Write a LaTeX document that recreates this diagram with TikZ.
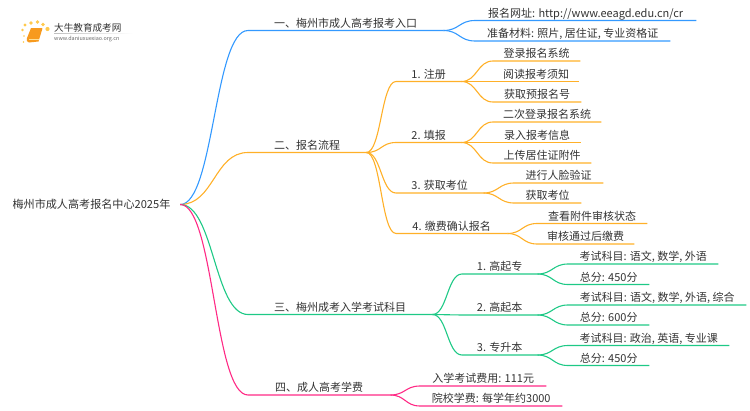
\documentclass[tikz,border=0pt]{standalone}
\usepackage{fontspec}
\setmainfont{Noto Sans CJK SC}
\usetikzlibrary{calc}
\definecolor{lineblue}{HTML}{3399FF}
\definecolor{lineorange}{HTML}{FFB028}
\definecolor{linegreen}{HTML}{1EC986}
\definecolor{linepink}{HTML}{FF2A85}
\definecolor{textdark}{HTML}{333333}
\definecolor{logodot}{HTML}{FFC94D}
\definecolor{logobook}{HTML}{F79A1E}
\newcommand{\figurescale}{1pt}
\tikzset{
	item/.style={anchor=south west,inner xsep=0pt,inner ysep=0.5pt,text height=9pt,text depth=2.5pt,text=textdark,font=\fontsize{11}{13}\selectfont},
	link/.style={line width=1.1pt},
}
\newcommand{\makeitem}[7]{
	\node[item,minimum width={(#4-#3)*\figurescale}] (#1) at (#3,#5) {#7};
	\draw[link,#6] (#2) .. controls ($(#2)!0.5!(#1.south west|-#2)$) and ($(#2|-#1.south west)!0.5!(#1.south west)$) .. (#1.south west) -- (#1.south east);
}

\begin{document}
\begin{tikzpicture}[x=\figurescale,y=-\figurescale]
	\useasboundingbox (0,0) rectangle (750,410);

	\fill[logodot] (24,36) circle (0.8) (22.5,30) circle (1.3) (25,25) circle (1.6) (31,23) circle (1.8) (37.5,22) circle (1.9) (43,24.5) circle (1.9) (47.5,29) circle (2.1) (23.5,42) circle (0.8);
	\fill[logobook] (31,28) -- (42,28) .. controls (42.5,28) and (42.5,29) .. (42,30) -- (38.5,41.5) -- (29,42.5) .. controls (26.5,42.5) and (26.5,40) .. (27,38) -- cycle;
	\draw[logodot!60!white,line width=0.6pt] (29,39.5) -- (38.5,39.5);
	\node[anchor=west,inner sep=0pt,text=textdark,font=\fontsize{9.6}{11}\selectfont] (logotitle) at (54,27.5) {大牛教育成考网};
	\node[anchor=west,inner sep=0pt,text=black!60,font=\fontsize{5.4}{6}\selectfont] (logourl) at (54,38.7) {www.daniuxuexiao.org.cn};
	\shade[left color=black!25,right color=white] (54,33) rectangle (133,33.5);

	\node[inner sep=0pt,minimum width={177*\figurescale},text=textdark,font=\fontsize{11.1}{13}\selectfont] (root) at (91.5,204.5) {梅州市成人高考报名中心2025年};

	\makeitem{entry}{root.east}{248}{443}{30.5}{lineblue}{一、梅州市成人高考报考入口}
	\makeitem{entryurl}{entry.south east}{475}{696}{20.5}{lineblue}{报名网址: http://www.eeagd.edu.cn/cr}
	\makeitem{entrydoc}{entry.south east}{475}{670}{41}{lineblue}{准备材料: 照片, 居住证, 专业资格证}

	\makeitem{flow}{root.east}{248}{366}{152.5}{lineorange}{二、报名流程}
	\makeitem{signup}{flow.south east}{396}{461}{81.5}{lineorange}{1. 注册}
	\makeitem{signupa}{signup.south east}{493}{580}{61}{lineorange}{登录报名系统}
	\makeitem{signupb}{signup.south east}{493}{579}{81.5}{lineorange}{阅读报考须知}
	\makeitem{signupc}{signup.south east}{493}{581}{102}{lineorange}{获取预报名号}
	\makeitem{fill}{flow.south east}{396}{461}{142.5}{lineorange}{2. 填报}
	\makeitem{filla}{fill.south east}{493}{601}{122}{lineorange}{二次登录报名系统}
	\makeitem{fillb}{fill.south east}{493}{581}{142.5}{lineorange}{录入报考信息}
	\makeitem{fillc}{fill.south east}{493}{591}{163}{lineorange}{上传居住证附件}
	\makeitem{seat}{flow.south east}{396}{483}{193}{lineorange}{3. 获取考位}
	\makeitem{seata}{seat.south east}{514}{603}{183}{lineorange}{进行人脸验证}
	\makeitem{seatb}{seat.south east}{514}{581}{203}{lineorange}{获取考位}
	\makeitem{pay}{flow.south east}{396}{507}{233.5}{lineorange}{4. 缴费确认报名}
	\makeitem{paya}{pay.south east}{537}{647}{223.5}{lineorange}{查看附件审核状态}
	\makeitem{payb}{pay.south east}{537}{634}{244}{lineorange}{审核通过后缴费}

	\makeitem{exam}{root.east}{248}{432}{314.5}{linegreen}{三、梅州成考入学考试科目}
	\makeitem{gqz}{exam.south east}{462}{537}{274}{linegreen}{1. 高起专}
	\makeitem{gqza}{gqz.south east}{568}{718}{264}{linegreen}{考试科目: 语文, 数学, 外语}
	\makeitem{gqzb}{gqz.south east}{568}{649}{284.5}{linegreen}{总分: 450分}
	\makeitem{gqb}{exam.south east}{462}{537}{315}{linegreen}{2. 高起本}
	\makeitem{gqba}{gqb.south east}{568}{746}{305}{linegreen}{考试科目: 语文, 数学, 外语, 综合}
	\makeitem{gqbb}{gqb.south east}{568}{649}{325}{linegreen}{总分: 600分}
	\makeitem{zsb}{exam.south east}{462}{537}{355}{linegreen}{3. 专升本}
	\makeitem{zsba}{zsb.south east}{568}{729}{345.5}{linegreen}{考试科目: 政治, 英语, 专业课}
	\makeitem{zsbb}{zsb.south east}{568}{649}{365.5}{linegreen}{总分: 450分}

	\makeitem{fee}{root.east}{248}{390}{395}{linepink}{四、成人高考学费}
	\makeitem{feea}{fee.south east}{420}{546}{386}{linepink}{入学考试费用: 111元}
	\makeitem{feeb}{fee.south east}{420}{562}{406}{linepink}{院校学费: 每学年约3000}
\end{tikzpicture}
\end{document}
